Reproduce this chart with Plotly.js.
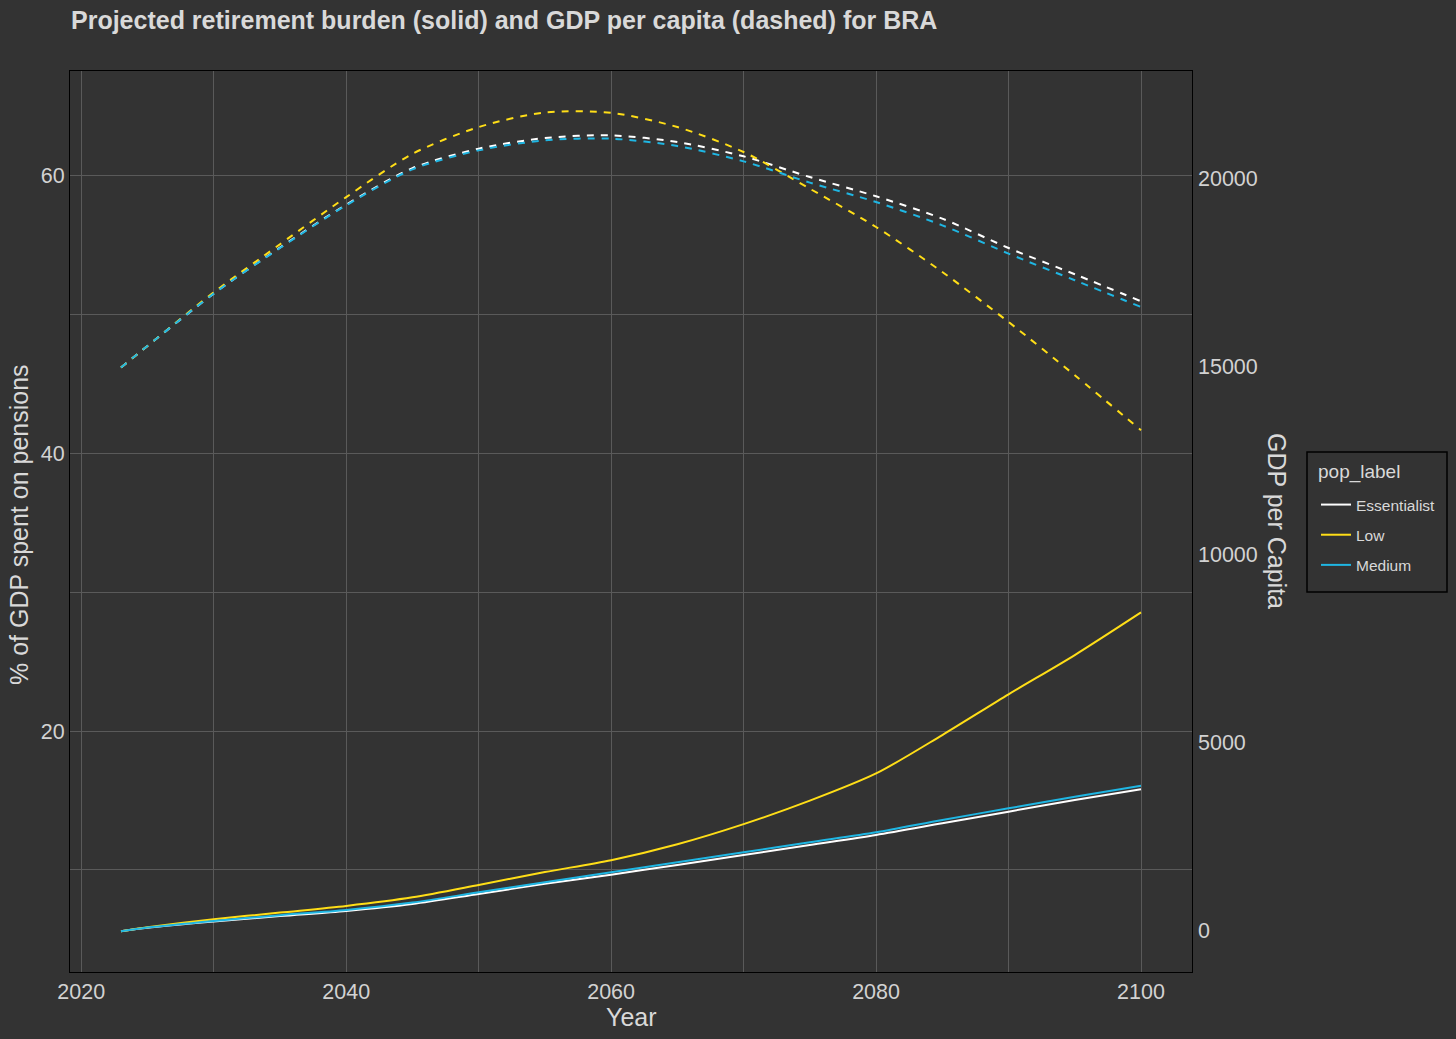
<!DOCTYPE html>
<html>
<head>
<meta charset="utf-8">
<script src="https://cdn.plot.ly/plotly-3.0.1.min.js"></script>
<style>
  html, body { margin: 0; padding: 0; background: #333333; }
  #plot { width: 1456px; height: 1039px; outline: 1px solid #000; outline-offset: -1px; }
</style>
</head>
<body>
<div id="plot"></div>
<script>
// ---- Data ----
const years = [2023, 2025, 2030, 2035, 2040, 2045, 2050, 2055, 2060, 2065, 2070, 2075, 2080, 2085, 2090, 2095, 2100];
const seriesNames = ["Essentialist", "Low", "Medium"];
const seriesColors = ["#ffffff", "#ffde17", "#1fb6e3"];

// % of GDP spent on pensions (solid, left axis)
const pensionEssentialist = [5.58, 5.83, 6.28, 6.68, 7.05, 7.55, 8.27, 9.00, 9.66, 10.36, 11.08, 11.80, 12.52, 13.36, 14.20, 15.04, 15.81];
const pensionLow          = [5.58, 5.87, 6.45, 6.93, 7.41, 8.03, 8.92, 9.85, 10.70, 11.85, 13.30, 14.99, 16.95, 19.72, 22.65, 25.48, 28.55];
const pensionMedium       = [5.58, 5.85, 6.33, 6.74, 7.12, 7.65, 8.39, 9.12, 9.83, 10.55, 11.27, 12.00, 12.71, 13.60, 14.44, 15.28, 16.07];

// GDP per capita (dashed, right axis)
const gdpEssentialist = [14970, 15546, 16937, 18160, 19300, 20270, 20788, 21070, 21142, 20964, 20584, 20034, 19522, 18929, 18148, 17450, 16733];
const gdpLow          = [14970, 15546, 16970, 18247, 19500, 20650, 21362, 21750, 21740, 21362, 20699, 19723, 18706, 17511, 16183, 14767, 13306];
const gdpMedium       = [14970, 15546, 16937, 18148, 19283, 20239, 20743, 21009, 21054, 20858, 20451, 19885, 19370, 18751, 17999, 17291, 16582];

const leftTicks = [20, 40, 60];
const rightTicks = [0, 5000, 10000, 15000, 20000];
const xTicks = [2020, 2040, 2060, 2080, 2100];
const legendTitle = 'pop_label';

// ---- Build traces ----
const pensions = [pensionEssentialist, pensionLow, pensionMedium];
const gdps = [gdpEssentialist, gdpLow, gdpMedium];
const traces = [];
for (let i = 0; i < seriesNames.length; i++) {
  traces.push({
    x: years, y: pensions[i], type: 'scatter', mode: 'lines',
    name: seriesNames[i], legendgroup: seriesNames[i],
    line: {color: seriesColors[i], width: 2, shape: 'spline', smoothing: 0.8},
    yaxis: 'y', showlegend: true, hoverinfo: 'skip'
  });
}
for (let i = 0; i < seriesNames.length; i++) {
  traces.push({
    x: years, y: gdps[i], type: 'scatter', mode: 'lines',
    name: seriesNames[i], legendgroup: seriesNames[i],
    line: {color: seriesColors[i], width: 2, dash: '7px,7px', shape: 'spline', smoothing: 0.8},
    yaxis: 'y2', showlegend: false, hoverinfo: 'skip'
  });
}

const font = 'Liberation Sans, Arial, sans-serif';
const grid = '#5a5a5a';
const tickColor = '#d2d2d2';
const titleColor = '#d9d9d9';

// plot-area geometry in pixels (for paper coordinates of legend box etc.)
const L = 70, T = 71, W = 1122, H = 901;
const px = x => (x - L) / W;
const py = y => 1 - (y - T) / H;

const layout = {
  width: 1456, height: 1039,
  paper_bgcolor: '#333333', plot_bgcolor: '#333333',
  margin: {l: 70, r: 264, t: 71, b: 67, pad: 0},
  font: {family: font, color: tickColor},
  title: {
    text: 'Projected retirement burden (solid) and GDP per capita (dashed) for BRA',
    font: {family: font, size: 25, color: titleColor, weight: 'bold'},
    x: 71/1456, xanchor: 'left', xref: 'container',
    y: 1 - 20/1039, yanchor: 'middle', yref: 'container'
  },
  xaxis: {
    range: [2019.15, 2103.85], tickmode: 'array', tickvals: xTicks,
    showgrid: true, gridcolor: grid, gridwidth: 1,
    minor: {dtick: 10, tick0: 2020, showgrid: true, gridcolor: grid, gridwidth: 1},
    zeroline: false, showline: true, linecolor: '#000000', linewidth: 1, mirror: true,
    ticks: '', tickfont: {size: 21.5, color: tickColor, family: font}
  },
  yaxis: {
    range: [2.65, 67.55], tickmode: 'array', tickvals: leftTicks,
    showgrid: true, gridcolor: grid, gridwidth: 1,
    minor: {dtick: 10, tick0: 0, showgrid: true, gridcolor: grid, gridwidth: 1},
    zeroline: false, showline: true, linecolor: '#000000', linewidth: 1, mirror: true,
    ticks: '', tickfont: {size: 21.5, color: tickColor, family: font}
  },
  yaxis2: {
    overlaying: 'y', side: 'right',
    range: [-1092, 22852], tickmode: 'array', tickvals: rightTicks,
    ticktext: rightTicks.map(String), ticklabelstandoff: 5,
    showgrid: false, zeroline: false, showline: false,
    ticks: '', tickfont: {size: 21.5, color: tickColor, family: font}
  },
  showlegend: true,
  legend: {
    x: px(1316), xanchor: 'left',
    y: py(488), yanchor: 'top',
    bgcolor: 'rgba(0,0,0,0)', borderwidth: 0,
    font: {family: font, size: 15.5, color: titleColor},
    traceorder: 'grouped', tracegroupgap: 7, itemwidth: 30
  },
  shapes: [
    {type: 'rect', xref: 'paper', yref: 'paper',
     x0: px(1307), x1: px(1447), y0: py(592), y1: py(452),
     line: {color: '#000000', width: 1.5}, fillcolor: 'rgba(0,0,0,0)'}
  ],
  annotations: [
    {text: legendTitle, xref: 'paper', yref: 'paper',
     x: px(1316), y: py(472), xanchor: 'left', yanchor: 'middle',
     showarrow: false, font: {family: font, size: 19, color: titleColor}},
    {text: '% of GDP spent on pensions', xref: 'paper', yref: 'paper',
     x: px(19), y: py(525), xanchor: 'center', yanchor: 'middle',
     textangle: -90, showarrow: false, font: {family: font, size: 25, color: titleColor}},
    {text: 'GDP per Capita', xref: 'paper', yref: 'paper',
     x: px(1277), y: py(521), xanchor: 'center', yanchor: 'middle',
     textangle: 90, showarrow: false, font: {family: font, size: 25, color: titleColor}},
    {text: 'Year', xref: 'paper', yref: 'paper',
     x: 0.5, y: py(1017), xanchor: 'center', yanchor: 'middle',
     showarrow: false, font: {family: font, size: 25, color: titleColor}}
  ]
};

Plotly.newPlot('plot', traces, layout, {displayModeBar: false, staticPlot: true});
</script>
</body>
</html>
